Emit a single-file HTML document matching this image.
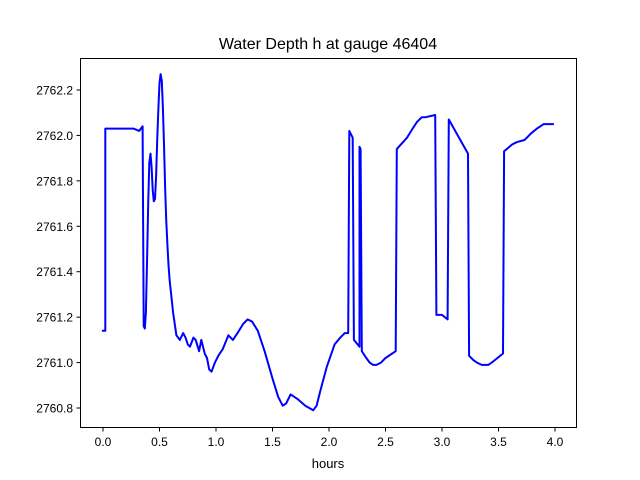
<!DOCTYPE html>
<html><head><meta charset="utf-8"><style>
body{margin:0;background:#fff;}
svg{display:block;font-family:"Liberation Sans","DejaVu Sans",sans-serif;}
</style></head><body>
<svg id="chart" width="640" height="480">
<rect x="0" y="0" width="640" height="480" fill="#fff"/>
<text x="328" y="49" text-anchor="middle" font-size="16">Water Depth h at gauge 46404</text>
<g id="xt"></g>
<g id="yt"></g>
<text x="328" y="468" text-anchor="middle" font-size="13">hours</text>
<path id="line" fill="none" stroke="#0000ff" stroke-width="2" stroke-linejoin="round"/>
<rect x="80.5" y="58.5" width="496" height="369" fill="none" stroke="#000" stroke-width="1"/>
</svg>
<script>
const hours=[-0.01,0.02,0.02,0.27,0.32,0.35,0.36,0.37,0.38,0.39,0.40,0.41,0.42,0.43,0.44,0.45,0.46,0.47,0.48,0.49,0.50,0.51,0.52,0.53,0.54,0.55,0.56,0.57,0.58,0.59,0.61,0.62,0.65,0.68,0.71,0.73,0.75,0.77,0.80,0.82,0.85,0.87,0.90,0.92,0.94,0.96,0.99,1.02,1.06,1.11,1.15,1.19,1.24,1.28,1.32,1.37,1.43,1.50,1.55,1.59,1.62,1.66,1.72,1.79,1.86,1.89,1.92,1.98,2.05,2.10,2.14,2.17,2.18,2.21,2.22,2.27,2.27,2.28,2.29,2.33,2.36,2.39,2.42,2.46,2.50,2.59,2.60,2.69,2.74,2.78,2.82,2.85,2.94,2.95,2.98,3.00,3.05,3.06,3.23,3.24,3.28,3.31,3.35,3.38,3.41,3.44,3.54,3.55,3.62,3.66,3.73,3.79,3.84,3.90,3.94,3.99];
const depth=[2761.14,2761.14,2762.03,2762.03,2762.02,2762.04,2761.16,2761.15,2761.22,2761.46,2761.70,2761.88,2761.92,2761.86,2761.76,2761.71,2761.72,2761.82,2761.98,2762.12,2762.23,2762.27,2762.24,2762.12,2761.96,2761.76,2761.62,2761.52,2761.43,2761.36,2761.27,2761.22,2761.12,2761.10,2761.13,2761.11,2761.08,2761.07,2761.11,2761.10,2761.05,2761.10,2761.04,2761.02,2760.97,2760.96,2761.00,2761.03,2761.06,2761.12,2761.10,2761.13,2761.17,2761.19,2761.18,2761.14,2761.05,2760.93,2760.85,2760.81,2760.82,2760.86,2760.84,2760.81,2760.79,2760.81,2760.87,2760.98,2761.08,2761.11,2761.13,2761.13,2762.02,2761.99,2761.10,2761.07,2761.95,2761.94,2761.05,2761.02,2761.00,2760.99,2760.99,2761.00,2761.02,2761.05,2761.94,2761.99,2762.03,2762.06,2762.08,2762.08,2762.09,2761.21,2761.21,2761.21,2761.19,2762.07,2761.92,2761.03,2761.01,2761.00,2760.99,2760.99,2760.99,2761.00,2761.04,2761.93,2761.96,2761.97,2761.98,2762.01,2762.03,2762.05,2762.05,2762.05];
const xTicks=[0.0,0.5,1.0,1.5,2.0,2.5,3.0,3.5,4.0];
const xTickLabels=["0.0","0.5","1.0","1.5","2.0","2.5","3.0","3.5","4.0"];
const yTicks=[2760.8,2761.0,2761.2,2761.4,2761.6,2761.8,2762.0,2762.2];
const yTickLabels=["2760.8","2761.0","2761.2","2761.4","2761.6","2761.8","2762.0","2762.2"];
const X=v=>103+v*113;
const Y=v=>90+(2762.2-v)*227.15;
const NS="http://www.w3.org/2000/svg";
const xt=document.getElementById('xt'),yt=document.getElementById('yt');
xTicks.forEach((t,i)=>{
 const l=document.createElementNS(NS,'line');
 l.setAttribute('x1',X(t));l.setAttribute('x2',X(t));l.setAttribute('y1',427.5);l.setAttribute('y2',431.5);l.setAttribute('stroke','#000');
 
 
 xt.appendChild(l);
 const s=document.createElementNS(NS,'text');
 s.setAttribute('x',X(t));s.setAttribute('y',446);s.setAttribute('text-anchor','middle');s.setAttribute('font-size','12');
 s.textContent=xTickLabels[i];
 
 
 xt.appendChild(s);
});
yTicks.forEach((t,i)=>{
 const l=document.createElementNS(NS,'line');
 l.setAttribute('x1',76.5);l.setAttribute('x2',80.5);l.setAttribute('y1',Y(t));l.setAttribute('y2',Y(t));l.setAttribute('stroke','#000');
 
 
 yt.appendChild(l);
 const s=document.createElementNS(NS,'text');
 s.setAttribute('x',73);s.setAttribute('y',Y(t)+4.5);s.setAttribute('text-anchor','end');s.setAttribute('font-size','12');
 s.textContent=yTickLabels[i];
 
 
 yt.appendChild(s);
});
document.getElementById('line').setAttribute('d',hours.map((h,i)=>(i?'L':'M')+X(h).toFixed(1)+' '+Y(depth[i]).toFixed(1)).join(' '));
</script>
</body></html>
